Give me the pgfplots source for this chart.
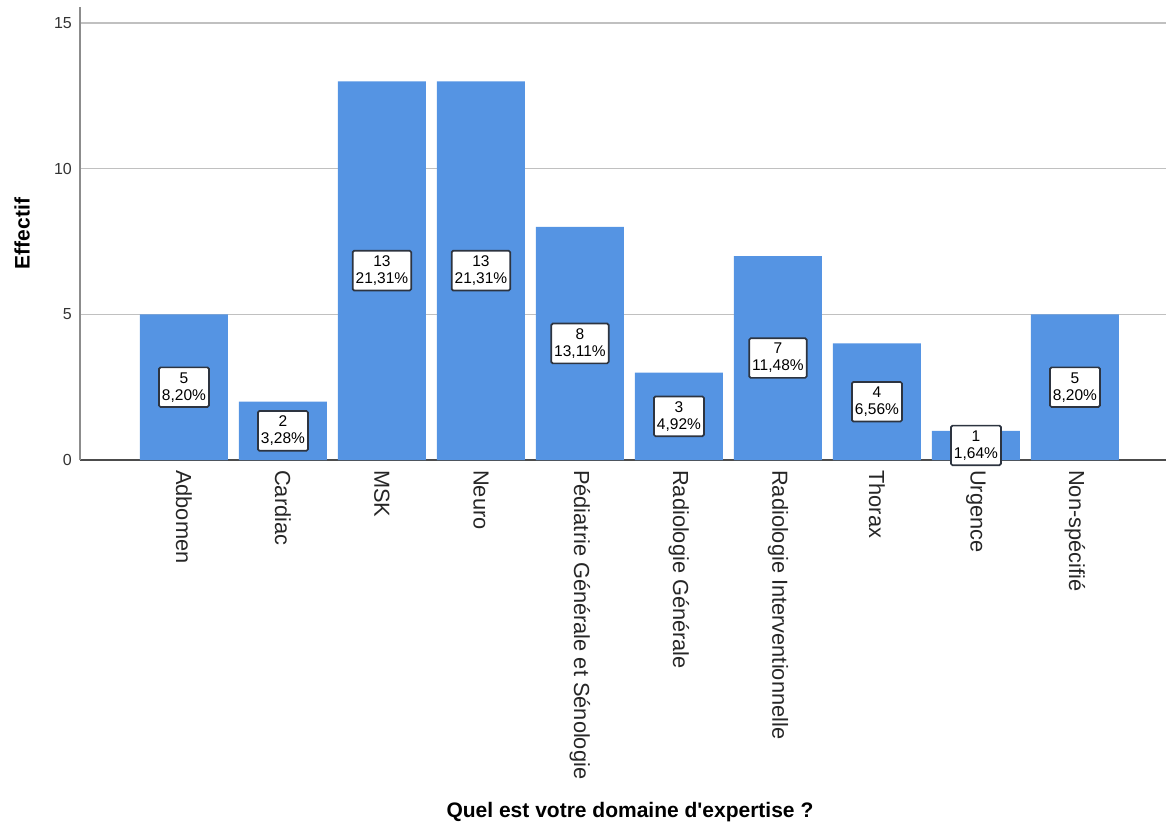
\documentclass[border=0pt]{standalone}
\usepackage{fontspec}
\setmainfont{Liberation Sans}
\newfontfamily\plainfont{Liberation Sans}
\usepackage{pgfplots}
\usepackage{pgfplotstable}
\pgfplotsset{compat=1.18}
\definecolor{barblue}{RGB}{85,148,227}
\definecolor{gridgray}{RGB}{192,192,192}
\definecolor{boxedge}{RGB}{45,52,64}

% count and share of respondents per field of expertise
\pgfplotstableread{
x y pct
0 5 8,20
1 2 3,28
2 13 21,31
3 13 21,31
4 8 13,11
5 3 4,92
6 7 11,48
7 4 6,56
8 1 1,64
9 5 8,20
}\data

\begin{document}
\begin{tikzpicture}
\path[use as bounding box] (-80pt,-365pt) rectangle (1086pt,460pt);
\begin{axis}[
  at={(0pt,0pt)}, anchor=south west,
  scale only axis, width=1086pt, height=453pt,
  xmin=-1.05, xmax=9.92, ymin=0, ymax=15.55,
  xtick={0,...,9},
  xticklabels={Adbomen, Cardiac, MSK, Neuro, Pédiatrie Générale et Sénologie, Radiologie Générale, Radiologie Interventionnelle, Thorax, Urgence, Non-spécifié},
  ytick={0,5,10,15},
  ymajorgrids, grid style={draw=gridgray, line width=1.3pt},
  major tick length=0pt,
  axis x line=bottom, axis y line=left,
  x axis line style={-, draw=black!70, line width=1.4pt},
  y axis line style={-, draw=black!45, line width=1.4pt},
  /pgf/number format/assume math mode=true,
  xticklabel style={rotate=-90, anchor=west, inner sep=0pt, font=\fontsize{21.8}{24}\selectfont, text=black!85},
  xticklabel shift=10pt,
  yticklabel style={anchor=east, inner sep=0pt, font=\fontsize{16}{18}\selectfont, text=black!80},
  yticklabel shift=8pt,
  xlabel={Quel est votre domaine d'expertise ?},
  xlabel style={at={(axis description cs:0.5064,-0.790)}, anchor=base, font=\plainfont\bfseries\fontsize{21}{24}\selectfont},
  ylabel={Effectif},
  ylabel style={at={(axis description cs:-0.0534,0.5)}, anchor=center, font=\bfseries\fontsize{21}{24}\selectfont},
  clip=false,
]
\addplot[ybar, bar width=88pt, draw=none, fill=barblue,
  point meta=explicit symbolic,
  visualization depends on={y \as \yv},
  nodes near coords={\pgfmathprintnumber{\yv}\\\pgfplotspointmeta\%},
  every node near coord/.append style={anchor=center, shift={(axis direction cs:0,-0.5*\yv)},
    draw=boxedge, fill=white, line width=1.7pt, rounded corners=1.5pt, align=center,
    inner xsep=3pt, inner ysep=5pt, font=\fontsize{15.5}{17}\selectfont, text=black}
] table[x=x, y=y, meta=pct] {\data};
\end{axis}
\end{tikzpicture}
\end{document}
